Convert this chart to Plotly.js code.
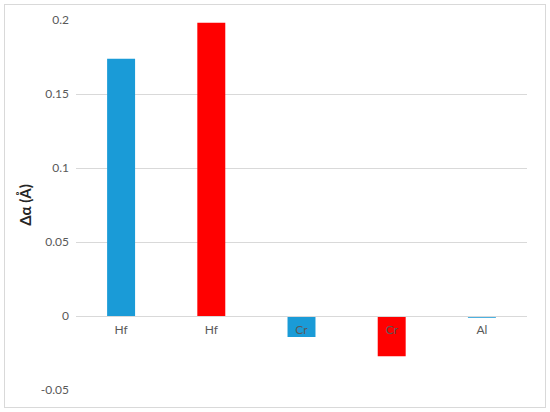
<!DOCTYPE html>
<html>
<head>
<meta charset="utf-8">
<script src="https://cdn.plot.ly/plotly-3.0.1.min.js"></script>
<style>
  body { margin: 0; background: #fff; }
  #frame { position: absolute; left: 4px; top: 4px; width: 540px; height: 402px; border: 1px solid #d9d9d9; pointer-events: none; }
</style>
</head>
<body>
<div id="plot" style="width:550px;height:412px;"></div>
<div id="frame"></div>
<script>
// element labels along the zero line
let elements = ['Hf', 'Hf', 'Cr', 'Cr', 'Al'];
let deltaAlpha = [0.1738, 0.1982, -0.0142, -0.0272, -0.0012];
let barColors = ['#1a9bd7', '#ff0000', '#1a9bd7', '#ff0000', '#1a9bd7'];

let yTicks = [-0.05, 0, 0.05, 0.1, 0.15, 0.2];
let yTickText = ['-0.05', '0', '0.05', '0.1', '0.15', '0.2'];

let slots = elements.map((e, i) => i);

let data = [{
  x: slots,
  y: deltaAlpha,
  type: 'bar',
  marker: {color: barColors},
  hoverinfo: 'y'
}];

let layout = {
  width: 550,
  height: 412,
  margin: {l: 76, r: 23, t: 20, b: 22},
  paper_bgcolor: '#fff',
  plot_bgcolor: '#fff',
  font: {family: 'Lato, "Open Sans", sans-serif', size: 12, color: '#595959'},
  bargap: 0.69,
  showlegend: false,
  xaxis: {
    range: [-0.5, 4.5],
    tickvals: slots,
    ticktext: elements,
    showgrid: false,
    zeroline: false,
    showline: true,
    linecolor: '#d9d9d9',
    ticks: '',
    ticklabelstandoff: 3,
    anchor: 'free',
    position: 0.2,
    fixedrange: true
  },
  yaxis: {
    range: [-0.05, 0.2],
    tickvals: yTicks,
    ticktext: yTickText,
    showgrid: true,
    gridcolor: '#d9d9d9',
    zeroline: false,
    ticks: '',
    ticklabelstandoff: 6,
    automargin: false,
    title: {
      text: '<b>Δα (Å)</b>',
      font: {size: 15, color: '#262626'},
      standoff: 5
    },
    fixedrange: true
  }
};

Plotly.newPlot('plot', data, layout, {displayModeBar: false, staticPlot: true});
</script>
</body>
</html>
